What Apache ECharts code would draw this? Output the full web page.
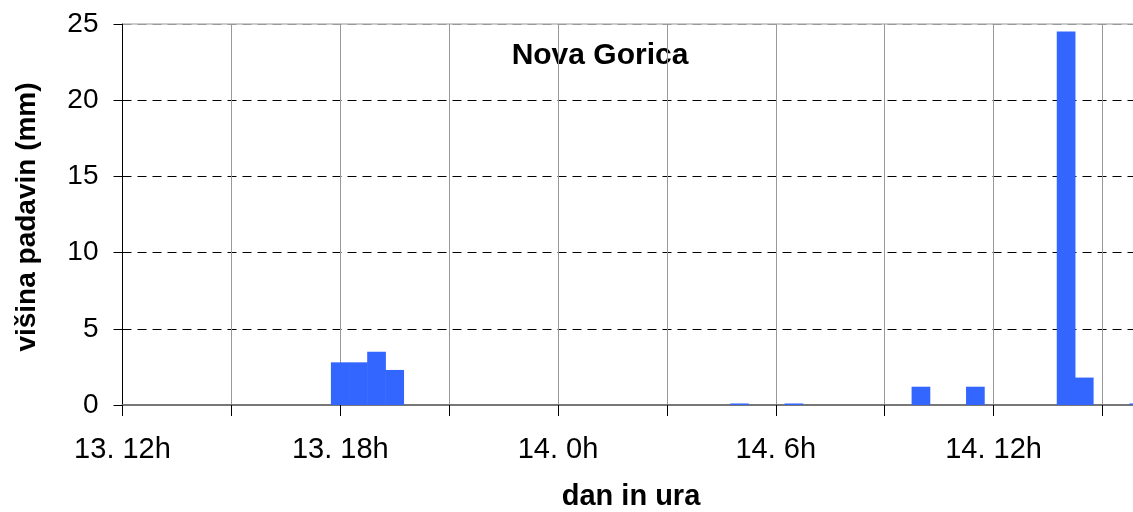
<!DOCTYPE html>
<html>
<head>
<meta charset="utf-8">
<script src="https://cdn.jsdelivr.net/npm/echarts@6/dist/echarts.min.js"></script>
<style>
  html, body { margin: 0; padding: 0; background: #fff; }
  #chart { width: 1133px; height: 512px; }
</style>
</head>
<body>
<div id="chart"></div>
<script>
// half-hour slots, 13. 12h .. 14. 16h
const categories = [
  '13. 12h', '13. 12h30', '13. 13h', '13. 13h30', '13. 14h', '13. 14h30',
  '13. 15h', '13. 15h30', '13. 16h', '13. 16h30', '13. 17h', '13. 17h30',
  '13. 18h', '13. 18h30', '13. 19h', '13. 19h30', '13. 20h', '13. 20h30',
  '13. 21h', '13. 21h30', '13. 22h', '13. 22h30', '13. 23h', '13. 23h30',
  '14. 0h', '14. 0h30', '14. 1h', '14. 1h30', '14. 2h', '14. 2h30',
  '14. 3h', '14. 3h30', '14. 4h', '14. 4h30', '14. 5h', '14. 5h30',
  '14. 6h', '14. 6h30', '14. 7h', '14. 7h30', '14. 8h', '14. 8h30',
  '14. 9h', '14. 9h30', '14. 10h', '14. 10h30', '14. 11h', '14. 11h30',
  '14. 12h', '14. 12h30', '14. 13h', '14. 13h30', '14. 14h', '14. 14h30',
  '14. 15h', '14. 15h30', '14. 16h'
];

// precipitation (mm) per slot
const rain = [
  0, 0, 0, 0, 0, 0, 0, 0, 0, 0, 0, 0,
  2.8, 2.8, 3.5, 2.3, 0, 0, 0, 0, 0, 0, 0, 0,
  0, 0, 0, 0, 0, 0, 0, 0, 0, 0, 0.1, 0,
  0, 0.1, 0, 0, 0, 0, 0, 0, 1.2, 0, 0, 1.2,
  0, 0, 0, 0, 24.5, 1.8, 0, 0, 0.1
];

const yTicks = [0, 5, 10, 15, 20, 25];

const FONT = 'Liberation Sans, Arial, sans-serif';

const chart = echarts.init(document.getElementById('chart'));

chart.setOption({
  animation: false,
  backgroundColor: '#fff',
  grid: {
    left: 122.5,
    right: -5.7,
    top: 24,
    bottom: 107,
    show: true,
    borderColor: '#999',
    borderWidth: 1,
    containLabel: false,
    outerBoundsMode: 'none'
  },
  graphic: [
    {
      type: 'text',
      x: 600, y: 56,
      style: {
        text: 'Nova Gorica',
        font: 'bold 30px ' + FONT,
        fill: '#000',
        align: 'center',
        verticalAlign: 'middle'
      }
    },
    {
      type: 'text',
      x: 631, y: 497,
      style: {
        text: 'dan in ura',
        font: 'bold 29px ' + FONT,
        fill: '#000',
        align: 'center',
        verticalAlign: 'middle'
      }
    },
    {
      type: 'text',
      x: 27, y: 217,
      rotation: Math.PI / 2,
      style: {
        text: 'višina padavin (mm)',
        font: 'bold 28px ' + FONT,
        fill: '#000',
        align: 'center',
        verticalAlign: 'middle'
      }
    }
  ],
  xAxis: {
    type: 'category',
    data: categories,
    boundaryGap: false,
    axisLine: { show: true, lineStyle: { color: '#777', width: 2 } },
    axisTick: { show: true, interval: 5, length: 11, lineStyle: { color: '#000', width: 1 } },
    axisLabel: {
      interval: 11,
      margin: 30,
      fontSize: 29,
      fontFamily: FONT,
      color: '#000'
    },
    splitLine: { show: true, interval: 5, lineStyle: { color: '#999', width: 1 } }
  },
  yAxis: {
    type: 'value',
    min: 0,
    max: 25,
    interval: 5,
    axisLine: { show: true, lineStyle: { color: '#000', width: 1 } },
    axisTick: { show: true, length: 9, lineStyle: { color: '#000' } },
    axisLabel: {
      margin: 24,
      fontSize: 28,
      fontFamily: FONT,
      color: '#000',
      formatter: function (v) { return yTicks.indexOf(v) >= 0 ? String(v) : ''; }
    },
    splitLine: {
      show: true,
      lineStyle: {
        color: ['#000', '#000', '#000', '#000', '#000', '#999'],
        type: [9, 6],
        width: 1
      }
    }
  },
  series: [
    {
      type: 'bar',
      data: rain,
      barWidth: 18.7,
      itemStyle: { color: '#3366ff', borderWidth: 0 },
      silent: true
    }
  ]
});
</script>
</body>
</html>
